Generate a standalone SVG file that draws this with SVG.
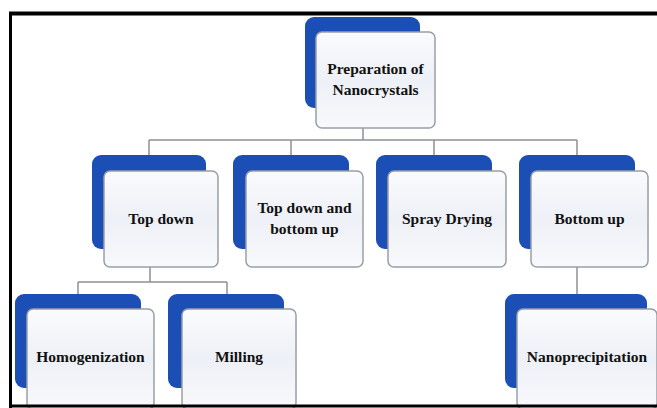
<svg xmlns="http://www.w3.org/2000/svg" width="657" height="408" viewBox="0 0 657 408">
<defs>
<linearGradient id="card" x1="0" y1="0" x2="0" y2="1">
<stop offset="0" stop-color="#fafbfd"/>
<stop offset="0.5" stop-color="#edf0f6"/>
<stop offset="1" stop-color="#f8f9fc"/>
</linearGradient>
</defs>
<style>
.back{fill:#1c4fb5;}
.front{fill:url(#card);stroke:#9a9ea6;stroke-width:1.5;}
.lbl{font-family:"Liberation Serif","Times New Roman",serif;font-weight:bold;font-size:15.5px;fill:#111;text-anchor:middle;}
.conn{stroke:#8e9096;stroke-width:1.5;fill:none;}
.frame{stroke:#000;fill:none;}
</style>
<rect width="657" height="408" fill="#fff"/>
<g id="connectors">
<path class="conn" d="M363 128 V140 M149 140 H577 M149 140 V155 M291 140 V155 M434 140 V155 M577 140 V155"/>
<path class="conn" d="M150 267 V282 M78 282 H227 M78 282 V294 M227 282 V294"/>
<path class="conn" d="M577 267 V294"/>
</g>
<g id="root">
<rect class="back" x="305" y="17" width="115" height="91" rx="9"/>
<rect class="front" x="316" y="32" width="119" height="96" rx="6"/>
<text class="lbl" x="375.5" y="74">Preparation of</text>
<text class="lbl" x="375.5" y="95">Nanocrystals</text>
</g>
<g id="topdown">
<rect class="back" x="92" y="155" width="114" height="94" rx="9"/>
<rect class="front" x="104" y="171" width="114" height="96" rx="6"/>
<text class="lbl" x="161" y="224">Top down</text>
</g>
<g id="topdown-bottomup">
<rect class="back" x="233" y="155" width="116" height="94" rx="9"/>
<rect class="front" x="246" y="171" width="117" height="96" rx="6"/>
<text class="lbl" x="304.5" y="213">Top down and</text>
<text class="lbl" x="304.5" y="234">bottom up</text>
</g>
<g id="spraydrying">
<rect class="back" x="376" y="155" width="116" height="94" rx="9"/>
<rect class="front" x="388" y="171" width="118" height="96" rx="6"/>
<text class="lbl" x="447" y="224">Spray Drying</text>
</g>
<g id="bottomup">
<rect class="back" x="519" y="155" width="116" height="94" rx="9"/>
<rect class="front" x="531" y="171" width="117" height="96" rx="6"/>
<text class="lbl" x="589.5" y="224">Bottom up</text>
</g>
<g id="homogenization">
<rect class="back" x="15" y="294" width="126" height="94" rx="9"/>
<rect class="front" x="27" y="309" width="127" height="100" rx="6"/>
<text class="lbl" x="90.5" y="362">Homogenization</text>
</g>
<g id="milling">
<rect class="back" x="168" y="294" width="116" height="94" rx="9"/>
<rect class="front" x="182" y="309" width="114" height="100" rx="6"/>
<text class="lbl" x="239" y="362">Milling</text>
</g>
<g id="nanoprecipitation">
<rect class="back" x="505" y="294" width="142" height="94" rx="9"/>
<rect class="front" x="517" y="309" width="140" height="100" rx="6"/>
<text class="lbl" x="587" y="362">Nanoprecipitation</text>
</g>
<g id="frame">
<line class="frame" x1="9" y1="13.5" x2="657" y2="13.5" stroke-width="4"/>
<line class="frame" x1="10.5" y1="12" x2="10.5" y2="408" stroke-width="3"/>
<line class="frame" x1="9" y1="406" x2="657" y2="406" stroke-width="3"/>
</g>
</svg>
